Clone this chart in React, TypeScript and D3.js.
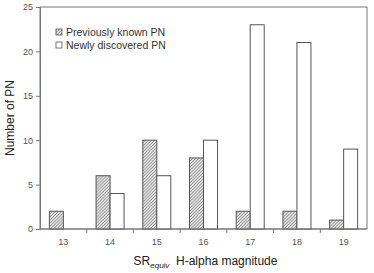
import React, { useEffect, useRef } from 'react';
import * as d3 from 'd3';

// magnitude bins
const magnitudes = ['13', '14', '15', '16', '17', '18', '19'];
const previouslyKnown = [2, 6, 10, 8, 2, 2, 1];
const newlyDiscovered = [0, 4, 6, 10, 23, 21, 9];
const yTicks = [0, 5, 10, 15, 20, 25];

const App = () => {
  const ref = useRef<SVGSVGElement>(null);

  useEffect(() => {
    const W = 374, H = 273;
    const margin = { top: 7, right: 7, bottom: 44, left: 40 };
    const width = W - margin.left - margin.right;
    const height = H - margin.top - margin.bottom;
    const font = 'Liberation Sans, Arial, sans-serif';

    const root = d3.select(ref.current);
    root.selectAll('*').remove();
    root.attr('width', W).attr('height', H);

    const defs = root.append('defs');
    const pat = defs.append('pattern')
      .attr('id', 'hatch')
      .attr('patternUnits', 'userSpaceOnUse')
      .attr('width', 2.2).attr('height', 2.2)
      .attr('patternTransform', 'rotate(45)');
    pat.append('rect').attr('width', 2.2).attr('height', 2.2).attr('fill', '#e2e2e2');
    pat.append('line').attr('x1', 0).attr('y1', 0).attr('x2', 0).attr('y2', 2.2)
      .attr('stroke', '#666').attr('stroke-width', 1);

    const svg = root.append('g').attr('transform', `translate(${margin.left},${margin.top})`);

    const x = d3.scaleBand().domain(magnitudes).range([0, width]);
    const y = d3.scaleLinear().domain([0, 25]).range([height, 0]);
    const barW = 14;

    // frame
    svg.append('rect').attr('width', width).attr('height', height)
      .attr('fill', 'none').attr('stroke', '#777').attr('stroke-width', 1);

    const groups = svg.append('g').selectAll('g').data(magnitudes).join('g')
      .attr('transform', d => `translate(${x(d)! + x.bandwidth() / 2},0)`);

    groups.append('rect')
      .attr('x', -barW).attr('width', barW)
      .attr('y', (d, i) => y(previouslyKnown[i]))
      .attr('height', (d, i) => y(0) - y(previouslyKnown[i]))
      .attr('fill', 'url(#hatch)').attr('stroke', '#555').attr('stroke-width', 1)
      .attr('display', (d, i) => previouslyKnown[i] > 0 ? null : 'none');

    groups.append('rect')
      .attr('x', 0).attr('width', barW)
      .attr('y', (d, i) => y(newlyDiscovered[i]))
      .attr('height', (d, i) => y(0) - y(newlyDiscovered[i]))
      .attr('fill', '#fff').attr('stroke', '#555').attr('stroke-width', 1)
      .attr('display', (d, i) => newlyDiscovered[i] > 0 ? null : 'none');

    // y axis
    const ya = svg.append('g')
      .call(d3.axisLeft(y).tickValues(yTicks).tickSize(4).tickPadding(3).tickSizeOuter(0));
    ya.select('.domain').attr('stroke', '#777');
    ya.selectAll('line').attr('stroke', '#777');
    ya.selectAll('text').attr('fill', '#555').style('font-family', font).style('font-size', '9px');

    // x axis: ticks at bin boundaries, labels centred
    const xa = svg.append('g').attr('transform', `translate(0,${height})`);
    xa.append('line').attr('x1', 0).attr('x2', width).attr('stroke', '#777');
    xa.selectAll('line.tk').data(magnitudes.slice(1)).join('line')
      .attr('class', 'tk')
      .attr('x1', d => x(d)!).attr('x2', d => x(d)!)
      .attr('y1', 0).attr('y2', 4).attr('stroke', '#777');
    xa.selectAll('text').data(magnitudes).join('text')
      .attr('x', d => x(d)! + x.bandwidth() / 2).attr('y', 16)
      .attr('text-anchor', 'middle').attr('fill', '#555')
      .style('font-family', font).style('font-size', '9px')
      .text(d => d);

    // axis titles
    const xt = root.append('text')
      .attr('x', margin.left + width / 2 + 2).attr('y', 265)
      .attr('text-anchor', 'middle').attr('fill', '#222')
      .style('font-family', font).style('font-size', '12px');
    xt.append('tspan').text('SR');
    xt.append('tspan').attr('dy', 3).style('font-size', '8px').style('font-style', 'italic').text('equiv');
    xt.append('tspan').attr('dy', -3).text('\u00a0 H-alpha magnitude');

    root.append('text')
      .attr('transform', `translate(14,${margin.top + height / 2}) rotate(-90)`)
      .attr('text-anchor', 'middle').attr('fill', '#222')
      .style('font-family', font).style('font-size', '12px')
      .text('Number of PN');

    // legend
    const legend = svg.append('g').attr('transform', 'translate(16,22)');
    const items = [
      { label: 'Previously known PN', fill: 'url(#hatch)' },
      { label: 'Newly discovered PN', fill: '#fff' },
    ];
    const li = legend.selectAll('g').data(items).join('g')
      .attr('transform', (d, i) => `translate(0,${i * 13})`);
    li.append('rect').attr('width', 6).attr('height', 6).attr('y', 0)
      .attr('fill', d => d.fill).attr('stroke', '#555').attr('stroke-width', 0.8);
    li.append('text').attr('x', 10).attr('y', 6.5)
      .attr('fill', '#333').style('font-family', font).style('font-size', '10.5px')
      .text(d => d.label);
  }, []);

  return <svg ref={ref} style={{ position: 'absolute', left: 0, top: 0, display: 'block' }}></svg>;
};

export default App;
